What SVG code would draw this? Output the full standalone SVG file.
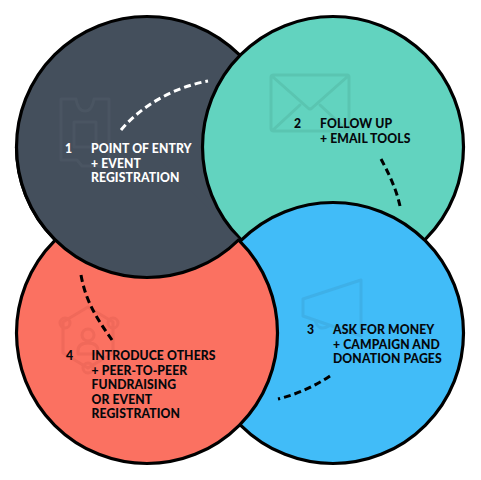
<svg xmlns="http://www.w3.org/2000/svg" width="481" height="480" viewBox="0 0 481 480">
<style>
.c{stroke:#000;stroke-width:3.2}
.t{font-family:"Lato",sans-serif;font-weight:900;font-size:12.2px;letter-spacing:.1px}
.w{fill:#fff}.k{fill:#05080c}
.ic{fill:none;stroke-width:3;stroke-linejoin:round;stroke-linecap:round}
.d{fill:none;stroke-width:3;stroke-dasharray:7 4}
</style>
<defs>
<clipPath id="front"><polygon points="240,240 147,147 0,147 0,300 240,300"/></clipPath>
<circle id="dark" class="c" cx="147" cy="147" r="130.5" fill="#444f5c"/>
</defs>
<g id="node-1"><use href="#dark"/></g>
<g id="node-2"><circle class="c" cx="333" cy="147" r="130.5" fill="#62d3bf"/></g>
<g id="node-3"><circle class="c" cx="333" cy="333" r="130.5" fill="#41bcf8"/></g>
<g id="node-4"><circle class="c" cx="147" cy="333" r="130.5" fill="#fb7161"/></g>
<g id="node-1-front"><use href="#dark" clip-path="url(#front)"/></g>
<g id="icons">
<path class="ic" stroke="#4a5562" d="M61 99H76Q78 111 85 111Q92 111 94 99H109V166H82L77 160H61ZM74 122H96V147H74Z"/>
<path class="ic" stroke="#5ac5b1" stroke-width="4" d="M274 75H347Q349 75 349 77V131H274Q271 131 271 128V77Q271 75 274 75ZM273 77L308 108Q310 110 312 108L347 77M273 130L300 105M320 105L347 130"/>
<path class="ic" stroke="#3eb0e8" d="M303 299L361 280V328M303 299V316L361 336M315 320Q318 332 329 326"/>
<path class="ic" stroke="#f0695a" d="M88 307L113 322V353L88 368L63 353V322ZM88 335m-6 0a6 6 0 1 0 12 0a6 6 0 1 0-12 0M78 351Q78 343 88 343Q98 343 98 351V354H78Z"/>
<circle class="ic" stroke="#f0695a" fill="#fb7161" cx="65" cy="323" r="5"/>
<circle class="ic" stroke="#f0695a" fill="#fb7161" cx="113" cy="323" r="5"/>
<circle class="ic" stroke="#f0695a" fill="#fb7161" cx="88" cy="368" r="5"/>
</g>
<g id="connectors">
<path class="d" stroke="#fff" d="M121 130C142 105 175 87 208 81"/>
<path class="d" stroke="#000" d="M381 159C388 172 396 188 400 206"/>
<path class="d" stroke="#000" d="M81 275C86 303 98 320 112 340"/>
<path class="d" stroke="#000" d="M330 376C315 386 298 394 278 399"/>
</g>
<g id="labels">
<text class="t w" x="65" y="153">1</text>
<text class="t w" x="91" y="153">POINT OF ENTRY</text>
<text class="t w" x="91" y="167.500">+ EVENT</text>
<text class="t w" x="91" y="182">REGISTRATION</text>
<text class="t k" x="294" y="128">2</text>
<text class="t k" x="320" y="128">FOLLOW UP</text>
<text class="t k" x="320" y="143">+ EMAIL TOOLS</text>
<text class="t k" x="307" y="334">3</text>
<text class="t k" x="333" y="334">ASK FOR MONEY</text>
<text class="t k" x="333" y="348.500">+ CAMPAIGN AND</text>
<text class="t k" x="333" y="363">DONATION PAGES</text>
<text class="t k" x="66" y="360">4</text>
<text class="t k" x="91.500" y="360">INTRODUCE OTHERS</text>
<text class="t k" x="91.500" y="374.500">+ PEER-TO-PEER</text>
<text class="t k" x="91.500" y="389">FUNDRAISING</text>
<text class="t k" x="91.500" y="403.500">OR EVENT</text>
<text class="t k" x="91.500" y="418">REGISTRATION</text>
</g>
</svg>
